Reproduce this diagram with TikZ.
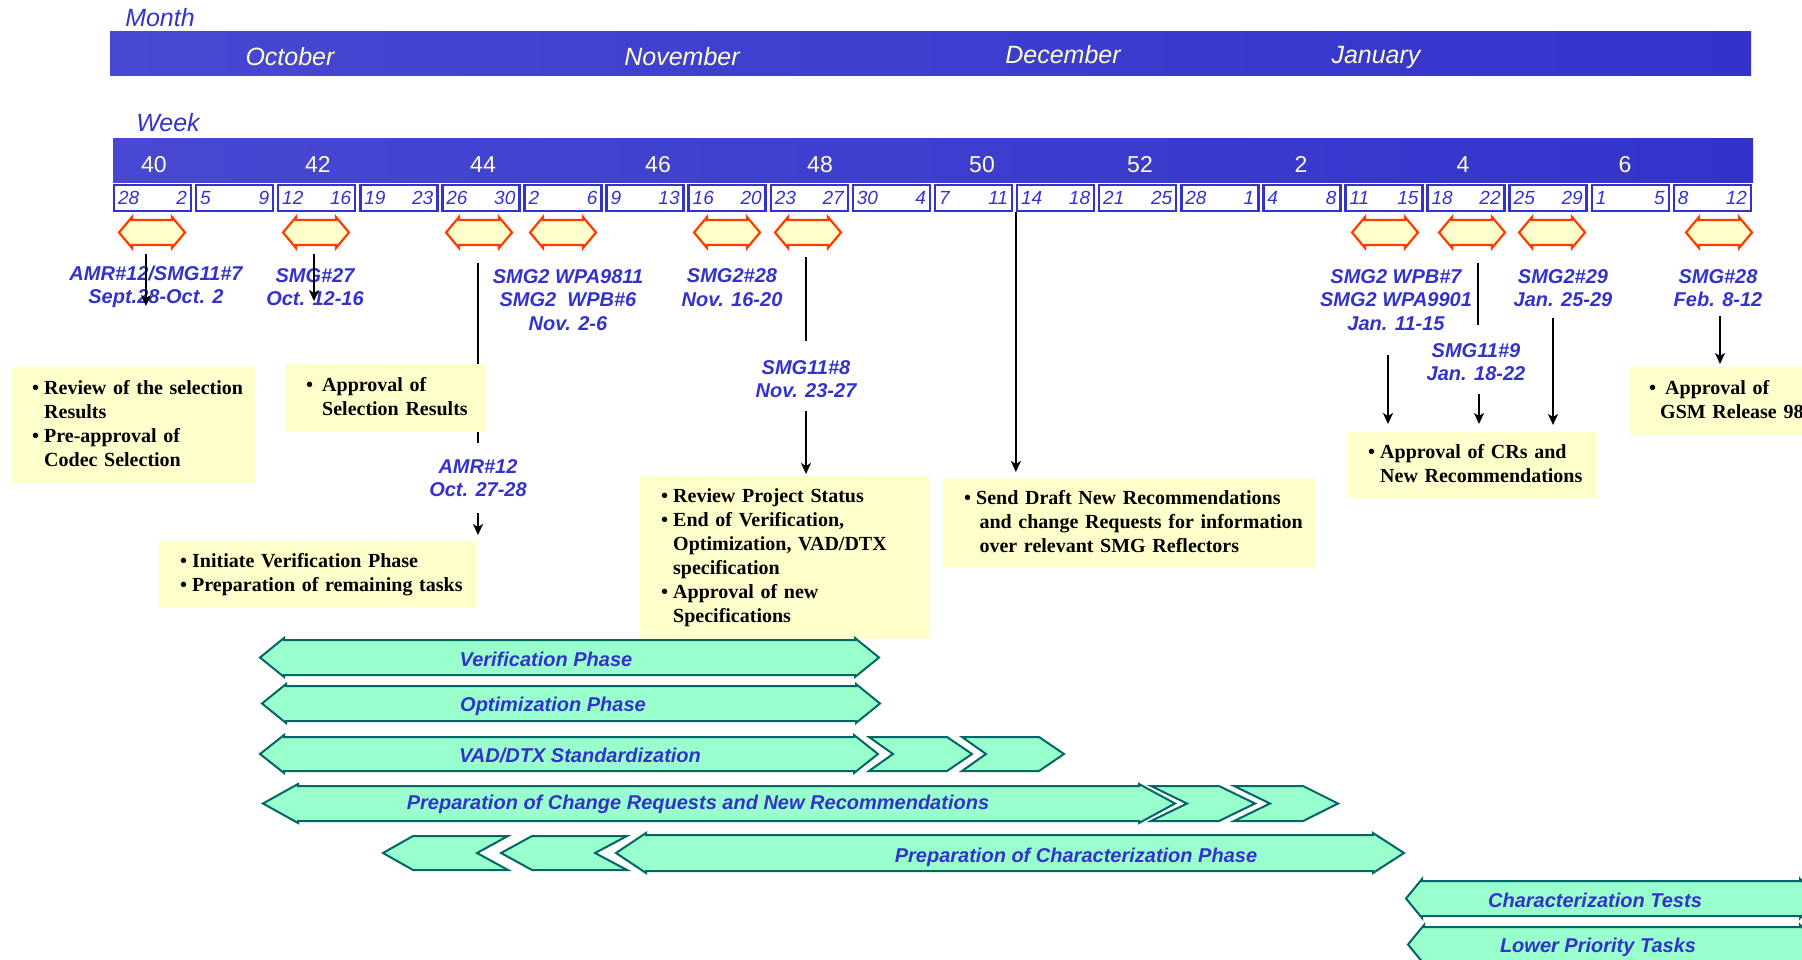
\documentclass[tikz,border=0pt]{standalone}
\usepackage{fontspec}
\setmainfont{Liberation Serif}
\setsansfont{Liberation Sans}
\usetikzlibrary{arrows.meta}

\definecolor{bandleft}{RGB}{72,72,210}
\definecolor{bandright}{RGB}{51,51,204}
\definecolor{ink}{RGB}{51,51,204}
\definecolor{cream}{RGB}{255,255,204}
\definecolor{mint}{RGB}{153,255,204}
\definecolor{deepteal}{RGB}{0,102,102}
\definecolor{flame}{RGB}{255,60,0}

\tikzset{
  band/.style={left color=bandleft, right color=bandright},
  heading/.style={anchor=base, inner sep=0pt, text=ink, font=\sffamily\itshape\fontsize{25}{25}\selectfont},
  monthname/.style={anchor=base, inner sep=0pt, text=cream, font=\sffamily\itshape\fontsize{25}{25}\selectfont},
  weeknum/.style={anchor=base, inner sep=0pt, text=cream, font=\sffamily\fontsize{23}{23}\selectfont},
  daybox/.style={draw=ink, line width=2.5pt, fill=white, minimum width=77pt, minimum height=26pt,
    text width=69pt, inner xsep=2pt, inner ysep=0pt, text=ink,
    font=\sffamily\itshape\fontsize{19}{19}\selectfont},
  milestone/.style={draw=flame, fill=cream, line width=2.2pt,
    insert path={(-33,0) -- (-20,-15.5) -- (-20,-12.5) -- (20,-12.5) -- (20,-15.5) -- (33,0)
      -- (20,15.5) -- (20,12.5) -- (-20,12.5) -- (-20,15.5) -- cycle}},
  meeting/.style={align=center, inner sep=0pt, text=ink,
    font=\sffamily\bfseries\itshape\fontsize{20}{23.5}\selectfont},
  note/.style={anchor=north west, fill=cream, inner xsep=21pt, inner ysep=0pt, align=left,
    font=\bfseries\fontsize{20}{24}\selectfont},
  phase/.style={draw=deepteal, fill=mint, line width=2pt},
  phasename/.style={anchor=base, inner sep=0pt, text=ink,
    font=\sffamily\bfseries\itshape\fontsize{20}{20}\selectfont},
  link/.style={line width=2pt},
  arr/.style={line width=2pt, -{Stealth[length=11pt, width=10pt, inset=3pt]}}
}

\begin{document}
\begin{tikzpicture}[x=1pt, y=-1pt]
\useasboundingbox (0,0) rectangle (1802,960);
\clip (0,0) rectangle (1802,960);

\node[heading] (month) at (160,27) {Month};
\fill[band] (110,32) rectangle (1751,76);
\node[monthname] (oct) at (290,66) {October};
\node[monthname] (nov) at (682,66) {November};
\node[monthname] (dec) at (1063,64) {December};
\node[monthname] (jan) at (1376,64) {January};

\node[heading] (week) at (168,132) {Week};
\fill[band] (113,139) rectangle (1753,183);
\node[weeknum] (k40) at (154,173) {40};
\node[weeknum] (k42) at (318,173) {42};
\node[weeknum] (k44) at (483,173) {44};
\node[weeknum] (k46) at (658,173) {46};
\node[weeknum] (k48) at (820,173) {48};
\node[weeknum] (k50) at (982,173) {50};
\node[weeknum] (k52) at (1140,173) {52};
\node[weeknum] (k02) at (1301,173) {2};
\node[weeknum] (k04) at (1463,173) {4};
\node[weeknum] (k06) at (1625,173) {6};

\node[daybox] (w0) at (152.5,198) {28\hfill 2};
\node[daybox] (w1) at (234.6,198) {5\hfill 9};
\node[daybox] (w2) at (316.7,198) {12\hfill 16};
\node[daybox] (w3) at (398.8,198) {19\hfill 23};
\node[daybox] (w4) at (480.9,198) {26\hfill 30};
\node[daybox] (w5) at (563.0,198) {2\hfill 6};
\node[daybox] (w6) at (645.1,198) {9\hfill 13};
\node[daybox] (w7) at (727.2,198) {16\hfill 20};
\node[daybox] (w8) at (809.3,198) {23\hfill 27};
\node[daybox] (w9) at (891.4,198) {30\hfill 4};
\node[daybox] (w10) at (973.5,198) {7\hfill 11};
\node[daybox] (w11) at (1055.6,198) {14\hfill 18};
\node[daybox] (w12) at (1137.7,198) {21\hfill 25};
\node[daybox] (w13) at (1219.8,198) {28\hfill 1};
\node[daybox] (w14) at (1301.9,198) {4\hfill 8};
\node[daybox] (w15) at (1384.0,198) {11\hfill 15};
\node[daybox] (w16) at (1466.1,198) {18\hfill 22};
\node[daybox] (w17) at (1548.2,198) {25\hfill 29};
\node[daybox] (w18) at (1630.3,198) {1\hfill 5};
\node[daybox] (w19) at (1712.4,198) {8\hfill 12};

\draw[shift={(152,232.5)}, milestone];
\draw[shift={(316,232.5)}, milestone];
\draw[shift={(479,232.5)}, milestone];
\draw[shift={(563,232.5)}, milestone];
\draw[shift={(727,232.5)}, milestone];
\draw[shift={(808,232.5)}, milestone];
\draw[shift={(1385,232.5)}, milestone];
\draw[shift={(1472,232.5)}, milestone];
\draw[shift={(1552,232.5)}, milestone];
\draw[shift={(1719,232.5)}, milestone];

\coordinate (amrtop) at (478,263);
\coordinate (amrend) at (478,443);
\coordinate (sttop) at (806,257);
\coordinate (stend) at (806,341);
\coordinate (janstop) at (1478,263);
\coordinate (janend) at (1478,325);
\draw[link] (amrtop) -- (amrend);
\draw[link] (sttop) -- (stend);
\draw[link] (janstop) -- (janend);

\node[note, text width=202pt, minimum height=116pt] (selrev) at (11,367)
  {\begin{tabular}{@{}l@{\hspace{5pt}}l@{}}\textbullet & Review of the selection\\ & Results\\
   \textbullet & Pre-approval of\\ & Codec Selection\end{tabular}};
\node[note, text width=158pt, minimum height=68pt] (selok) at (285,364)
  {\begin{tabular}{@{}l@{\hspace{9pt}}l@{}}\textbullet & Approval of\\ & Selection Results\end{tabular}};
\node[note, text width=276pt, minimum height=67pt] (verinit) at (159,541)
  {\begin{tabular}{@{}l@{\hspace{5pt}}l@{}}\textbullet & Initiate Verification Phase\\
   \textbullet & Preparation of remaining tasks\end{tabular}};
\node[note, text width=248pt, minimum height=163pt] (status) at (640,476)
  {\begin{tabular}{@{}l@{\hspace{5pt}}l@{}}\textbullet & Review Project Status\\
   \textbullet & End of Verification,\\ & Optimization, VAD/DTX\\ & specification\\
   \textbullet & Approval of new\\ & Specifications\end{tabular}};
\node[note, text width=331pt, minimum height=90pt] (drafts) at (943,478)
  {\begin{tabular}{@{}l@{\hspace{5pt}}l@{}}\textbullet & Send Draft New Recommendations\\
   & \,and change Requests for information\\ & \,over relevant SMG Reflectors\end{tabular}};
\node[note, text width=208pt, minimum height=66pt] (crok) at (1347,432)
  {\begin{tabular}{@{}l@{\hspace{5pt}}l@{}}\textbullet & Approval of CRs and\\ & New Recommendations\end{tabular}};
\node[note, inner xsep=19pt, text width=170pt, minimum height=68pt] (release) at (1630,367)
  {\begin{tabular}{@{}l@{\hspace{9pt}}l@{}}\textbullet & Approval of\\ & \hspace{-5pt}GSM Release 98\end{tabular}};

\node[meeting] (mt1) at (156,287) {AMR\#12/SMG11\#7\\Sept.28-Oct. 2};
\node[meeting] (mt2) at (315,287) {SMG\#27\\Oct. 12-16};
\node[meeting] (mt3) at (568,300) {SMG2 WPA9811\\SMG2\ \ WPB\#6\\Nov. 2-6};
\node[meeting] (mt4) at (732,287.5) {SMG2\#28\\Nov. 16-20};
\node[meeting] (mt5) at (806,379) {SMG11\#8\\Nov. 23-27};
\node[meeting] (mt6) at (478,478) {AMR\#12\\Oct. 27-28};
\node[meeting] (mt7) at (1396,300) {SMG2 WPB\#7\\SMG2 WPA9901\\Jan. 11-15};
\node[meeting] (mt8) at (1476,362) {SMG11\#9\\Jan. 18-22};
\node[meeting] (mt9) at (1563,288) {SMG2\#29\\Jan. 25-29};
\node[meeting] (mt10) at (1718,288) {SMG\#28\\Feb. 8-12};

\coordinate (sept) at (146,254);
\coordinate (septend) at (146,306);
\coordinate (octw) at (314,254);
\coordinate (octwend) at (314,301);
\coordinate (amrlow) at (478,513);
\coordinate (stlow) at (806,411);
\coordinate (janA) at (1388,355);
\coordinate (janB) at (1479,394);
\coordinate (janC) at (1553,318);
\coordinate (feb) at (1720,316);
\draw[arr] (sept) -- (septend);
\draw[arr] (octw) -- (octwend);
\draw[arr, shorten >=6pt] (amrlow) -- (amrlow |- verinit.north);
\draw[arr, shorten >=2pt] (stlow) -- (stlow |- status.north);
\draw[arr, shorten >=6pt] (w11.south west) -- (w11.south west |- drafts.north);
\draw[arr, shorten >=8pt] (janA) -- (janA |- crok.north);
\draw[arr, shorten >=8pt] (janB) -- (janB |- crok.north);
\draw[arr, shorten >=7pt] (janC) -- (janC |- crok.north);
\draw[arr, shorten >=3pt] (feb) -- (feb |- release.north);

\draw[phase] (260,657.5) -- (284,638) -- (284,640) -- (855,640) -- (855,638) -- (879,657.5)
  -- (855,677) -- (855,675) -- (284,675) -- (284,677) -- cycle;
\node[phasename] (verif) at (546,666) {Verification Phase};

\draw[phase] (262,703.5) -- (286,684) -- (286,686) -- (856,686) -- (856,684) -- (880,703.5)
  -- (856,723) -- (856,721) -- (286,721) -- (286,723) -- cycle;
\node[phasename] (optim) at (553,711) {Optimization Phase};

\draw[phase] (260,754) -- (284,735) -- (284,737) -- (854,737) -- (854,735) -- (878,754)
  -- (854,773) -- (854,771) -- (284,771) -- (284,773) -- cycle;
\draw[phase] (869,737) -- (947,737) -- (972,754) -- (947,771) -- (869,771) -- (893,754) -- cycle;
\draw[phase] (962,737) -- (1039,737) -- (1064,754) -- (1039,771) -- (962,771) -- (986,754) -- cycle;
\node[phasename] (vad) at (580,762) {VAD/DTX Standardization};

\draw[phase] (263,803.5) -- (298,784) -- (298,786) -- (1139,786) -- (1139,784) -- (1175,803.5)
  -- (1139,823) -- (1139,821) -- (298,821) -- (298,823) -- cycle;
\draw[phase] (1151,786) -- (1219,786) -- (1255,803.5) -- (1219,821) -- (1151,821) -- (1187,803.5) -- cycle;
\draw[phase] (1234,786) -- (1303,786) -- (1338,803.5) -- (1303,821) -- (1234,821) -- (1270,803.5) -- cycle;
\node[phasename] (crs) at (698,809) {Preparation of Change Requests and New Recommendations};

\draw[phase] (383,853) -- (413,836) -- (508,836) -- (477,853) -- (508,870) -- (413,870) -- cycle;
\draw[phase] (501,853) -- (532,836) -- (627,836) -- (595,853) -- (627,870) -- (532,870) -- cycle;
\draw[phase] (616,853) -- (646,833) -- (646,835) -- (1373,835) -- (1373,833) -- (1404,853)
  -- (1373,873) -- (1373,871) -- (646,871) -- (646,873) -- cycle;
\node[phasename] (charprep) at (1076,862) {Preparation of Characterization Phase};

\draw[phase] (1406,898.5) -- (1422,879) -- (1422,881) -- (1800,881) -- (1800,879) -- (1818,898.5)
  -- (1800,918) -- (1800,916) -- (1422,916) -- (1422,918) -- cycle;
\node[phasename] (chartest) at (1595,907) {Characterization Tests};

\draw[phase] (1408,944.5) -- (1424,925) -- (1424,927) -- (1800,927) -- (1800,925) -- (1818,944.5)
  -- (1800,964) -- (1800,962) -- (1424,962) -- (1424,964) -- cycle;
\node[phasename] (lowprio) at (1598,952) {Lower Priority Tasks};

\end{tikzpicture}
\end{document}
